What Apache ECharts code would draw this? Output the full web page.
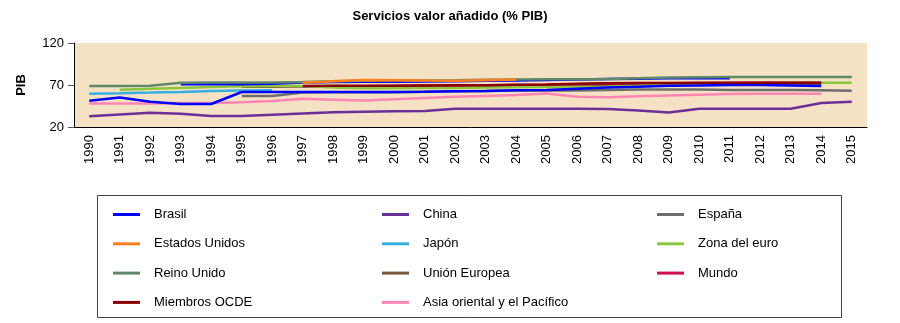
<!DOCTYPE html>
<html>
<head>
<meta charset="utf-8">
<script src="https://cdn.jsdelivr.net/npm/echarts@6/dist/echarts.min.js"></script>
<style>html,body{margin:0;padding:0;background:#fff}#c{width:900px;height:323px}</style>
</head>
<body>
<div id="c"></div>
<script>
var years = ['1990','1991','1992','1993','1994','1995','1996','1997','1998','1999','2000','2001','2002','2003','2004','2005','2006','2007','2008','2009','2010','2011','2012','2013','2014','2015'];
var yTicks = [20, 70, 120];
var _ = null;
var brasil = [51.3,55,50,47.4,47.4,61.7,61.7,61.7,61.7,61.7,61.7,62,62.5,63,63.7,64,65.5,67,68,69,69.5,70,70,69.5,68.8,_];
var brasilB = [_,_,_,71,71,71,71.5,73,73.5,73.8,74,74.2,74.5,75,75.5,76,76.5,77,77.5,78,78,78,_,_,_,_];
var china = [32.7,35,37,35.9,33,33,34.5,36,37.5,38.2,38.7,39,41.8,41.8,41.8,41.8,41.8,41.5,39.5,37.2,41.8,41.8,41.8,41.8,48.6,50.1];
var espana = [_,_,_,_,_,57,57,61,61.5,61.5,61.5,62,62.5,63,63.5,63.5,63.5,64,64.5,64.5,64.5,64,64,64,63.7,63.3];
var eeuu = [_,_,_,_,_,_,_,72.8,74.5,75.9,75.6,75.3,75.1,75.8,76.5,_,_,_,_,_,_,_,_,_,_,_];
var japon = [59.7,60.3,61,61.8,62.8,63.5,63.7,_,_,_,_,_,_,_,_,_,_,_,_,_,_,_,_,_,_,_];
var zonaEuro = [_,64.4,65.5,66.5,67.5,68.5,68.8,68.8,67,66,66,66.3,66.5,67,67.3,67.6,67.6,68,69,70.4,70.8,71.5,72,72.5,72.7,72.7];
var reinoUnido = [68.8,68.8,69,72.8,73,73,73,73.5,74.5,75,75.3,75.5,75.8,76.2,76.5,76.8,76.8,77,78,79,79.3,79.5,79.5,79.5,79.5,79.5];
var unionEuropea = [_,_,_,_,_,68,68,68.3,68.5,68.6,68.8,69,69.2,69.4,69.6,69.8,70,70.3,70.6,71,71.2,71.4,71.5,71.5,71.5,_];
var mundo = [_,_,_,_,_,_,_,68.4,68.6,68.6,68.8,69,69.2,69.4,70,70.2,71,71.7,71.9,72.1,72.2,72.4,72.6,72.6,72.6,_];
var ocde = [_,_,_,_,_,_,_,68.8,69,69,69.2,69.4,69.6,69.8,70.4,70.6,71.5,72.2,72.4,72.5,72.6,72.7,72.8,72.8,72.8,_];
var asia = [48,48,48,48.5,48.5,49.5,51,53.5,52.5,51.5,53,54.5,56,57,58,60,56,55.5,56.5,57.5,58.5,59.3,59.5,59.7,59.7,_];

var font = 'Liberation Sans, Arial, sans-serif';
function s(name, data, color) {
  return { name: name, type: 'line', data: data, showSymbol: false, symbol: 'none',
    lineStyle: { color: color, width: 2.5 }, itemStyle: { color: color }, connectNulls: false, animation: false };
}
var series = [
  s('China', china, '#6B2F96'),
  s('Asia oriental y el Pacífico', asia, '#FF85B5'),
  s('Japón', japon, '#35AEE2'),
  s('Unión Europea', unionEuropea, '#7A5A3A'),
  s('España', espana, '#6E6E6E'),
  s('Mundo', mundo, '#D4104A'),
  s('Zona del euro', zonaEuro, '#8CC63F'),
  s('Brasil', brasil, '#0000FF'),
  s('Brasil', brasilB, '#0000FF'),
  s('Reino Unido', reinoUnido, '#5E8A6A'),
  s('Miembros OCDE', ocde, '#8B0000'),
  s('Estados Unidos', eeuu, '#FF7F1E')
];
function lg(left, names) {
  return { orient: 'vertical', left: left, top: 203, itemWidth: 27, itemHeight: 3, icon: 'rect',
    itemGap: 16.3, data: names, selectedMode: false,
    textStyle: { fontFamily: font, fontSize: 13, color: '#000', padding: [0, 0, 0, 9] } };
}
var chart = echarts.init(document.getElementById('c'), null, { renderer: 'canvas' });
chart.setOption({
  animation: false,
  title: { text: 'Servicios valor añadido (% PIB)', left: 'center', top: 5,
    textStyle: { fontFamily: font, fontSize: 13, fontWeight: 'bold', color: '#000' } },
  grid: { left: 74, right: 33, top: 43, bottom: 196, show: true, backgroundColor: '#F5E1C3', borderWidth: 0 },
  xAxis: { type: 'category', data: years, boundaryGap: true,
    axisLine: { lineStyle: { color: '#000', width: 1 } }, axisTick: { show: false },
    axisLabel: { rotate: 90, margin: 8, interval: 0, fontFamily: font, fontSize: 13, color: '#000' } },
  yAxis: { type: 'value', min: yTicks[0], max: yTicks[2], interval: 50, name: 'PIB', nameLocation: 'middle', nameGap: 46,
    nameTextStyle: { fontFamily: font, fontSize: 13, fontWeight: 'bold', color: '#000' },
    axisLine: { show: true, lineStyle: { color: '#000', width: 1 } },
    axisTick: { show: true, length: 6, lineStyle: { color: '#555' } }, splitLine: { show: false },
    axisLabel: { fontFamily: font, fontSize: 13, color: '#000', margin: 10 } },
  legend: [
    lg(108, ['Brasil', 'Estados Unidos', 'Reino Unido', 'Miembros OCDE']),
    lg(377, ['China', 'Japón', 'Unión Europea', 'Asia oriental y el Pacífico']),
    lg(652, ['España', 'Zona del euro', 'Mundo'])
  ],
  graphic: [{ type: 'rect', shape: { x: 97.5, y: 195.5, width: 744, height: 122 },
    style: { fill: 'none', stroke: '#444', lineWidth: 1 }, silent: true }],
  series: series
});
</script>
</body>
</html>
